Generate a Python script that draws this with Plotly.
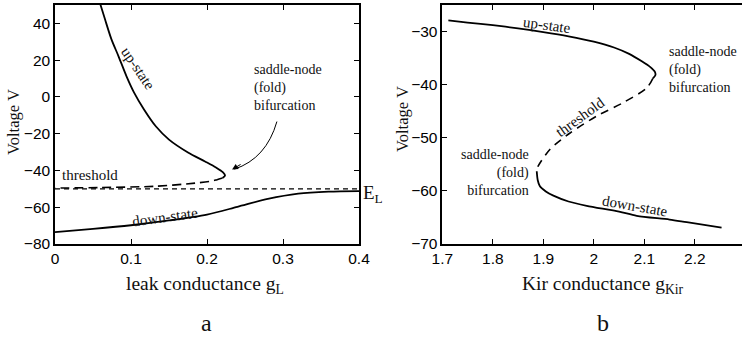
import plotly.graph_objects as go

# ---------------- Panel a data (leak conductance) ----------------
a_up_g = [0.0592, 0.0658, 0.0743, 0.0836, 0.0941, 0.1039, 0.1171, 0.1329, 0.150, 0.175, 0.1974, 0.2118, 0.2211, 0.2237, 0.2204]
a_up_V = [51.0, 42.2, 31.3, 22.1, 11.2, 2.5, -6.8, -16.1, -23.2, -30.2, -35.1, -38.4, -41.1, -42.8, -44.1]
a_thr_g = [0.2204, 0.2132, 0.2062, 0.1842, 0.1316, 0.0592, 0.0]
a_thr_V = [-44.1, -45.0, -45.8, -46.9, -48.6, -49.3, -49.6]
a_down_g = [0.0, 0.05, 0.10, 0.15, 0.20, 0.24, 0.28, 0.32, 0.36, 0.40]
a_down_V = [-73.5, -71.8, -69.8, -67.2, -64.0, -59.8, -55.5, -52.6, -51.5, -51.2]
a_EL_g = [0.0, 0.4]
a_EL_V = [-50, -50]
a_xticks = [0, 0.1, 0.2, 0.3, 0.4]
a_xticktext = ["0", "0.1", "0.2", "0.3", "0.4"]
a_yticks = [-80, -60, -40, -20, 0, 20, 40]

# ---------------- Panel b data (Kir conductance) ----------------
b_up_g = [1.712, 1.75, 1.80, 1.85, 1.90, 1.95, 2.00, 2.04, 2.07, 2.095, 2.112, 2.121, 2.122, 2.117]
b_up_V = [-27.9, -28.3, -28.8, -29.4, -30.1, -30.9, -31.9, -33.0, -34.2, -35.6, -36.7, -37.6, -38.2, -38.8]
b_thr_g = [2.117, 2.105, 2.058, 2.006, 1.953, 1.913, 1.890, 1.887]
b_thr_V = [-38.8, -40.6, -43.4, -45.9, -49.1, -52.2, -55.3, -56.1]
b_down_g = [1.887, 1.889, 1.893, 1.905, 1.92, 1.95, 1.986, 2.05, 2.085, 2.15, 2.184, 2.253]
b_down_V = [-56.3, -58.0, -59.1, -60.1, -60.9, -62.0, -62.8, -63.9, -64.7, -65.4, -65.9, -66.9]
b_xticks = [1.7, 1.8, 1.9, 2.0, 2.1, 2.2]
b_xticktext = ["1.7", "1.8", "1.9", "2", "2.1", "2.2"]
b_yticks = [-70, -60, -50, -40, -30]

SERIF = "Liberation Serif"
SANS = "Liberation Sans"
TXT = "#111111"

fig = go.Figure()
line_solid = dict(color="black", width=1.8, shape="spline", smoothing=0.8)

fig.add_trace(go.Scatter(x=a_up_g, y=a_up_V, mode="lines", line=line_solid, xaxis="x", yaxis="y"))
fig.add_trace(go.Scatter(x=a_thr_g, y=a_thr_V, mode="lines",
                         line=dict(color="black", width=1.6, dash="9px,5px", shape="spline", smoothing=0.8),
                         xaxis="x", yaxis="y"))
fig.add_trace(go.Scatter(x=a_EL_g, y=a_EL_V, mode="lines",
                         line=dict(color="black", width=1.4, dash="5px,4px"), xaxis="x", yaxis="y"))
fig.add_trace(go.Scatter(x=a_down_g, y=a_down_V, mode="lines", line=line_solid, xaxis="x", yaxis="y"))

fig.add_trace(go.Scatter(x=b_up_g, y=b_up_V, mode="lines", line=line_solid, xaxis="x2", yaxis="y2"))
fig.add_trace(go.Scatter(x=b_thr_g, y=b_thr_V, mode="lines",
                         line=dict(color="black", width=1.6, dash="8px,6px", shape="spline", smoothing=0.8),
                         xaxis="x2", yaxis="y2"))
fig.add_trace(go.Scatter(x=b_down_g, y=b_down_V, mode="lines", line=line_solid, xaxis="x2", yaxis="y2"))

W, H = 742, 337
ydom = [1 - 244 / H, 1 - 5 / H]

axis_common = dict(showline=True, linecolor="black", linewidth=1.5, ticks="inside", ticklen=5,
                   tickcolor="black", tickwidth=1, showgrid=False, zeroline=False, automargin=False,
                   tickfont=dict(family=SANS, size=15.5, color="black"))


def paper_text(x, y, text, size, angle=0, xanchor="center"):
    return dict(x=x / W, y=1 - y / H, xref="paper", yref="paper", text=text, textangle=angle,
                xanchor=xanchor, yanchor="middle", showarrow=False,
                font=dict(family=SERIF, size=size, color=TXT))


annotations = [
    # panel a
    dict(x=0.1086, y=15.5, xref="x", yref="y", text="up-state", textangle=56, showarrow=False,
         font=dict(family=SERIF, size=15, color=TXT)),
    dict(x=0.259, y=5.2, xref="x", yref="y", text="saddle-node<br>(fold)<br>bifurcation", xanchor="left",
         yanchor="middle", align="left", showarrow=False, font=dict(family=SERIF, size=14, color=TXT)),
    dict(x=0.046, y=-42.2, xref="x", yref="y", text="threshold", showarrow=False,
         font=dict(family=SERIF, size=15, color=TXT)),
    dict(x=0.1447, y=-65.1, xref="x", yref="y", text="down-state", textangle=-8, showarrow=False,
         font=dict(family=SERIF, size=15, color=TXT)),
    dict(x=0.233, y=-39.5, xref="x", yref="y", ax=10, ay=-6, text="", showarrow=True,
         arrowhead=2, arrowsize=1.2, arrowwidth=1, arrowcolor="black"),
    paper_text(361, 194, "E<sub>L</sub>", 19, xanchor="left"),
    paper_text(205, 285, "leak conductance g<sub>L</sub>", 19.5),
    paper_text(207, 323, "a", 24),
    paper_text(13, 122, "Voltage V", 16.5, angle=-90),
    # panel b
    dict(x=1.907, y=-28.8, xref="x2", yref="y2", text="up-state", textangle=8, showarrow=False,
         font=dict(family=SERIF, size=15, color=TXT)),
    dict(x=2.145, y=-37.2, xref="x2", yref="y2", text="saddle-node<br>(fold)<br>bifurcation", xanchor="left",
         yanchor="middle", align="left", showarrow=False, font=dict(family=SERIF, size=14, color=TXT)),
    dict(x=1.973, y=-46.1, xref="x2", yref="y2", text="threshold", textangle=-36, showarrow=False,
         font=dict(family=SERIF, size=15, color=TXT)),
    dict(x=1.8756, y=-56.6, xref="x2", yref="y2", text="saddle-node<br>(fold)<br>bifurcation", xanchor="right",
         yanchor="middle", align="right", showarrow=False, font=dict(family=SERIF, size=14, color=TXT)),
    dict(x=2.0816, y=-62.8, xref="x2", yref="y2", text="down-state", textangle=10, showarrow=False,
         font=dict(family=SERIF, size=15, color=TXT)),
    paper_text(603, 285, "Kir conductance g<sub>Kir</sub>", 19.5),
    paper_text(603, 323, "b", 24),
    paper_text(402, 119, "Voltage V", 16.5, angle=-90),
]

shapes = [
    dict(type="path", xref="x", yref="y", path="M 0.292,-13.4 Q 0.278,-33.5 0.236,-39.3",
         line=dict(color="black", width=1)),
]

fig.update_layout(
    width=W, height=H, margin=dict(l=0, r=0, t=0, b=0, autoexpand=False),
    paper_bgcolor="white", plot_bgcolor="white", showlegend=False,
    xaxis=dict(domain=[55 / W, 359 / W], range=[0, 0.4], tickvals=a_xticks, ticktext=a_xticktext,
               anchor="y", mirror="ticks", **axis_common),
    yaxis=dict(domain=ydom, range=[-80, 50], tickvals=a_yticks, anchor="x", mirror="ticks", **axis_common),
    xaxis2=dict(domain=[442.3 / W, 1.0], range=[1.7, 1.7 + (742 - 442.3) / 505], tickvals=b_xticks,
                ticktext=b_xticktext, anchor="y2", mirror="ticks", **axis_common),
    yaxis2=dict(domain=ydom, range=[-70, -25], tickvals=b_yticks, anchor="x2", mirror=False, **axis_common),
    annotations=annotations, shapes=shapes,
)

fig.write_html("out.html", config={"displayModeBar": False},
               post_script="document.body.style.margin='0';document.body.style.overflow='hidden';")
